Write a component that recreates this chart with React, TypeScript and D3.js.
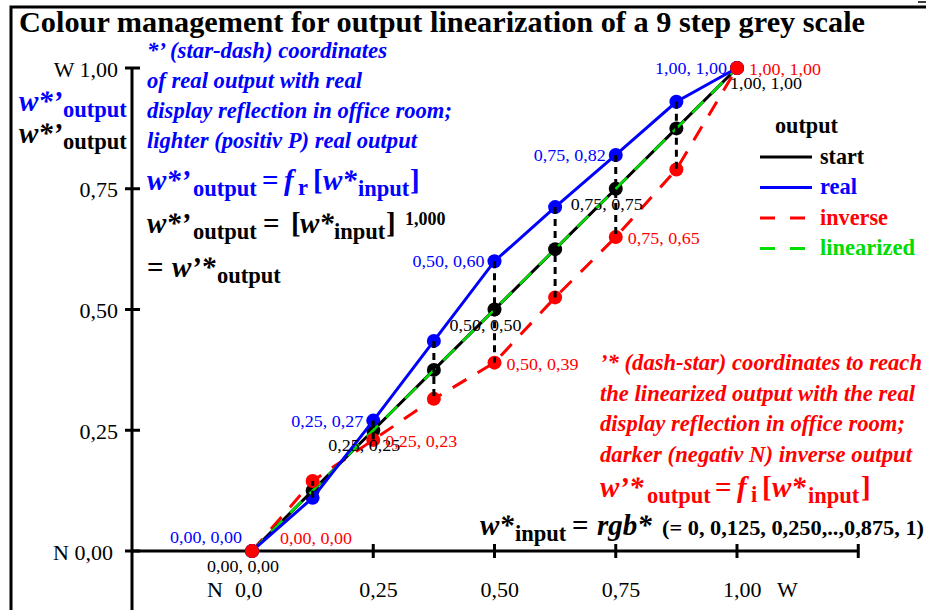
import React from 'react';
import * as d3 from 'd3';

// 9 step grey scale input and the four outputs
const inputs = [0, 0.125, 0.25, 0.375, 0.5, 0.625, 0.75, 0.875, 1];
const startOut = [0, 0.125, 0.25, 0.375, 0.5, 0.625, 0.75, 0.875, 1];
const realOut = [0, 0.11, 0.27, 0.435, 0.6, 0.712, 0.82, 0.93, 1];
const inverseOut = [0, 0.145, 0.23, 0.315, 0.39, 0.525, 0.65, 0.79, 1];
const linearOut = [0, 0.125, 0.25, 0.375, 0.5, 0.625, 0.75, 0.875, 1];
const labelled = [0, 2, 4, 6, 8];

const yTicks = [0, 0.25, 0.5, 0.75, 1];
const yTickLabels = ['N 0,00', '0,25', '0,50', '0,75', 'W 1,00'];
const xTicks = [0.25, 0.5, 0.75, 1, 1.25];
const xTickLabels = ['0,25', '0,50', '0,75', '1,00'];

const legendItems = [
  { name: 'start', color: '#000', dash: '', w: 44 },
  { name: 'real', color: '#0000ff', dash: '', w: 37 },
  { name: 'inverse', color: '#ff0000', dash: '15,15', w: 68 },
  { name: 'linearized', color: '#00dd00', dash: '15,15', w: 95 },
];

const blueNote = [
  "*\u2019 (star-dash) coordinates",
  'of real output with real',
  'display reflection in office room;',
  'lighter (positiv P) real output',
];
const blueNoteW = [240, 215, 305, 270];
const redNote = [
  "\u2019* (dash-star) coordinates to reach",
  'the linearized output with the real',
  'display reflection in office room;',
  'darker (negativ N) inverse output',
];
const redNoteW = [322, 315, 305, 312];

const BLUE = '#0000ff';
const RED = '#ff0000';
const GREEN = '#00dd00';
const FONT = '"Liberation Serif", "Times New Roman", serif';

const fmt = (v: number) => d3.format('.2f')(v).replace('.', ',');

export default function App() {
  const x = d3.scaleLinear().domain([0, 1]).range([252, 737]);
  const y = d3.scaleLinear().domain([0, 1]).range([551, 68]);

  const line = (vals: number[]) =>
    d3.line<number>().x((_, i) => x(inputs[i])).y((d) => y(d))(vals) ?? '';

  const bi = { fontWeight: 'bold', fontStyle: 'italic' } as const;
  const b = { fontWeight: 'bold', fontStyle: 'normal' } as const;
  const W = 29; // main formula size
  const S = 22.5; // subscript size

  return (
    <svg
      width={926}
      height={610}
      style={{ position: 'absolute', left: 0, top: 0, background: '#fff' }}
      fontFamily={FONT}
    >
      <rect width={926} height={610} fill="#fff" />
      {/* frame */}
      <path d="M11,610 V7 H926" fill="none" stroke="#000" strokeWidth={3} />
      <line x1={918} x2={926} y1={2} y2={2} stroke="#000" strokeWidth={1.5} />

      <text x={19} y={32} fontSize={29} fontWeight="bold" textLength={846} lengthAdjust="spacingAndGlyphs">
        Colour management for output linearization of a 9 step grey scale
      </text>

      {/* axes */}
      <line x1={132} x2={132} y1={y(1)} y2={610} stroke="#000" strokeWidth={3} />
      {yTicks.map((t, i) => (
        <g key={'yt' + i}>
          <line x1={125} x2={140} y1={y(t)} y2={y(t)} stroke="#000" strokeWidth={3} />
          <text x={t === 0 ? 113 : 118} y={y(t) + 8.5} fontSize={22} textAnchor="end">
            {yTickLabels[i]}
          </text>
        </g>
      ))}
      <line x1={132} x2={x(1.25)} y1={y(0)} y2={y(0)} stroke="#000" strokeWidth={3} />
      {xTicks.map((t, i) => (
        <line key={'xt' + i} x1={x(t)} x2={x(t)} y1={y(0) - 7} y2={y(0) + 7} stroke="#000" strokeWidth={3} />
      ))}
      <text y={597} fontSize={22}>
        <tspan x={207}>N</tspan>
        <tspan x={235}>0,0</tspan>
      </text>
      {xTickLabels.map((l, i) => (
        <text key={'xl' + i} x={x(xTicks[i]) - 14} y={597} fontSize={22}>
          {l}
        </text>
      ))}
      <text x={777} y={597} fontSize={22}>W</text>

      {/* y axis titles */}
      <text y={111} fill={BLUE}>
        <tspan x={19} fontSize={W} {...bi}>w*’</tspan>
        <tspan x={63} fontSize={S} {...b} dy={6}>output</tspan>
      </text>
      <text y={143} fill="#000">
        <tspan x={19} fontSize={W} {...bi}>w*’</tspan>
        <tspan x={63} fontSize={S} {...b} dy={6}>output</tspan>
      </text>

      {/* blue note */}
      {blueNote.map((l, i) => (
        <text
          key={'bn' + i}
          x={147}
          y={58 + i * 30}
          fontSize={22.5}
          fill={BLUE}
          {...bi}
          textLength={blueNoteW[i]}
          lengthAdjust="spacingAndGlyphs"
        >
          {l}
        </text>
      ))}
      <text y={190} fill={BLUE}>
        <tspan x={147} fontSize={W} {...bi}>w*’</tspan>
        <tspan x={193} fontSize={S} {...b} dy={6}>output</tspan>
        <tspan x={262} fontSize={W} {...b} dy={-6}>=</tspan>
        <tspan x={284} fontSize={W} {...bi}>f</tspan>
        <tspan x={298} fontSize={S} {...b} dy={5}>r</tspan>
        <tspan x={313} fontSize={W} {...b} dy={-5}>[</tspan>
        <tspan x={323} fontSize={W} {...bi}>w*</tspan>
        <tspan x={358} fontSize={S} {...b} dy={6}>input</tspan>
        <tspan x={410} fontSize={W} {...b} dy={-6}>]</tspan>
      </text>
      <text y={233} fill="#000">
        <tspan x={147} fontSize={W} {...bi}>w*’</tspan>
        <tspan x={193} fontSize={S} {...b} dy={6}>output</tspan>
        <tspan x={263} fontSize={W} {...b} dy={-6}>=</tspan>
        <tspan x={291} fontSize={W} {...b}>[</tspan>
        <tspan x={300} fontSize={W} {...bi}>w*</tspan>
        <tspan x={334} fontSize={S} {...b} dy={6}>input</tspan>
        <tspan x={386} fontSize={W} {...b} dy={-6}>]</tspan>
        <tspan x={405} fontSize={18} {...b} dy={-8}>1,000</tspan>
      </text>
      <text y={277} fill="#000">
        <tspan x={147} fontSize={W} {...b}>=</tspan>
        <tspan x={172} fontSize={W} {...bi}>w’*</tspan>
        <tspan x={217} fontSize={S} {...b} dy={6}>output</tspan>
      </text>

      {/* red note */}
      {redNote.map((l, i) => (
        <text
          key={'rn' + i}
          x={600}
          y={370 + i * 30.7}
          fontSize={22.5}
          fill={RED}
          {...bi}
          textLength={redNoteW[i]}
          lengthAdjust="spacingAndGlyphs"
        >
          {l}
        </text>
      ))}
      <text y={497} fill={RED}>
        <tspan x={600} fontSize={W} {...bi}>w’*</tspan>
        <tspan x={647} fontSize={S} {...b} dy={6}>output</tspan>
        <tspan x={715} fontSize={W} {...b} dy={-6}>=</tspan>
        <tspan x={737} fontSize={W} {...bi}>f</tspan>
        <tspan x={751} fontSize={S} {...b} dy={5}>i</tspan>
        <tspan x={762} fontSize={W} {...b} dy={-5}>[</tspan>
        <tspan x={772} fontSize={W} {...bi}>w*</tspan>
        <tspan x={808} fontSize={S} {...b} dy={6}>input</tspan>
        <tspan x={861} fontSize={W} {...b} dy={-6}>]</tspan>
      </text>
      <text y={535} fill="#000">
        <tspan x={480} fontSize={W} {...bi}>w*</tspan>
        <tspan x={515} fontSize={S} {...b} dy={6}>input</tspan>
        <tspan x={572} fontSize={W} {...b} dy={-6}>=</tspan>
        <tspan x={597} fontSize={W} {...bi}>rgb*</tspan>
      </text>
      <text x={662} y={535} fontSize={21} {...b} textLength={262} lengthAdjust="spacingAndGlyphs">
        (= 0, 0,125, 0,250,..,0,875, 1)
      </text>

      {/* legend */}
      <text x={775} y={133} fontSize={22.5} fontWeight="bold" textLength={63} lengthAdjust="spacingAndGlyphs">
        output
      </text>
      {legendItems.map((it, i) => (
        <g key={'lg' + i}>
          <line
            x1={760}
            x2={812}
            y1={157 + i * 30.5}
            y2={157 + i * 30.5}
            stroke={it.color}
            strokeWidth={3}
            strokeDasharray={it.dash || undefined}
          />
          <text
            x={820}
            y={164 + i * 30.3}
            fontSize={22.5}
            fontWeight="bold"
            fill={it.color}
            textLength={it.w}
            lengthAdjust="spacingAndGlyphs"
          >
            {it.name}
          </text>
        </g>
      ))}

      {/* circles under the lines */}
      {inputs.map((v, i) => (
        <circle key={'cs' + i} cx={x(v)} cy={y(startOut[i])} r={7} fill="#000" />
      ))}
      {inputs.map((v, i) => (
        <circle key={'cr' + i} cx={x(v)} cy={y(realOut[i])} r={7} fill={BLUE} />
      ))}

      {/* series lines */}
      <path d={line(inverseOut)} fill="none" stroke={RED} strokeWidth={3} strokeDasharray="16,13" />
      <path d={line(startOut)} fill="none" stroke="#000" strokeWidth={3} />
      <path d={line(linearOut)} fill="none" stroke={GREEN} strokeWidth={2.5} strokeDasharray="16,11" />
      <path d={line(realOut)} fill="none" stroke={BLUE} strokeWidth={3} />

      {inputs.map((v, i) => (
        <circle key={'ci' + i} cx={x(v)} cy={y(inverseOut[i])} r={7} fill={RED} />
      ))}

      {/* vertical differences real - inverse */}
      {inputs.slice(1, -1).map((v, k) => (
        <line
          key={'vd' + k}
          x1={x(v)}
          x2={x(v)}
          y1={y(realOut[k + 1])}
          y2={y(inverseOut[k + 1])}
          stroke="#000"
          strokeWidth={3}
          strokeDasharray="7,5"
        />
      ))}

      {/* point labels */}
      {labelled.map((i) => (
        <g key={'pl' + i} fontSize={16}>
          <text
            x={x(inputs[i]) - 10}
            y={i === 0 ? y(realOut[i]) - 8 : y(realOut[i]) + 6}
            textAnchor="end"
            fill={BLUE}
            textLength={72}
            lengthAdjust="spacingAndGlyphs"
          >
            {fmt(inputs[i])}, {fmt(realOut[i])}
          </text>
          <text
            x={i === 8 ? x(inputs[i]) - 7 : x(inputs[i]) - 45}
            y={y(startOut[i]) + 21}
            fill="#000"
            textLength={72}
            lengthAdjust="spacingAndGlyphs"
          >
            {fmt(inputs[i])}, {fmt(startOut[i])}
          </text>
          <text
            x={i === 0 ? x(inputs[i]) + 28 : x(inputs[i]) + 12}
            y={i === 0 ? y(inverseOut[i]) - 7 : y(inverseOut[i]) + 7}
            fill={RED}
            textLength={72}
            lengthAdjust="spacingAndGlyphs"
          >
            {fmt(inputs[i])}, {fmt(inverseOut[i])}
          </text>
        </g>
      ))}
    </svg>
  );
}
